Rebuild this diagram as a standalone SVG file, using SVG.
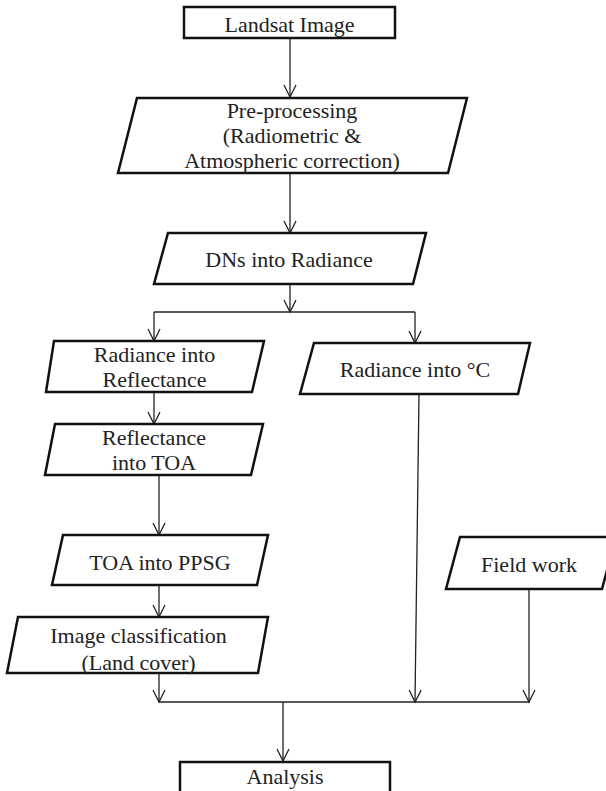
<svg xmlns="http://www.w3.org/2000/svg" width="606" height="791" viewBox="0 0 606 791">
<style>
.box{fill:#fff;stroke:#111;stroke-width:2.5;stroke-linejoin:miter}
.lbl{font-family:"Liberation Serif","Times New Roman",serif;font-size:22px;fill:#222;text-anchor:middle}
.con{fill:none;stroke:#222;stroke-width:1.3}
</style>
<defs>
<marker id="arr" markerUnits="userSpaceOnUse" viewBox="-14 -8 16 16" refX="0" refY="0" markerWidth="16" markerHeight="16" orient="auto" overflow="visible">
<path d="M-12,-6 L0,0 L-12,6" fill="none" stroke="#222" stroke-width="1.3"/>
</marker>
</defs>
<rect width="606" height="791" fill="#fff"/>
<g id="connectors">
<path class="con" d="M290,38 V97" marker-end="url(#arr)"/>
<path class="con" d="M290,173 V233" marker-end="url(#arr)"/>
<path class="con" d="M290,284 V312" marker-end="url(#arr)"/>
<path class="con" d="M154,312 H415"/>
<path class="con" d="M154,312 V341" marker-end="url(#arr)"/>
<path class="con" d="M415,312 V343" marker-end="url(#arr)"/>
<path class="con" d="M154,392 V424" marker-end="url(#arr)"/>
<path class="con" d="M159,475 V535" marker-end="url(#arr)"/>
<path class="con" d="M159,585 V617" marker-end="url(#arr)"/>
<path class="con" d="M159,673 V702" marker-end="url(#arr)"/>
<path class="con" d="M159,702 H530"/>
<path class="con" d="M419,394 L415,702" marker-end="url(#arr)"/>
<path class="con" d="M529,589 V702" marker-end="url(#arr)"/>
<path class="con" d="M283,702 V761" marker-end="url(#arr)"/>
</g>
<g id="landsat">
<rect class="box" x="184" y="7" width="211" height="31"/>
<text class="lbl" x="289.5" y="32">Landsat Image</text>
</g>
<g id="preprocessing">
<polygon class="box" points="137,98 467,98 448,173 118,173"/>
<text class="lbl" x="292" y="118">Pre-processing</text>
<text class="lbl" x="292" y="143">(Radiometric &amp;</text>
<text class="lbl" x="292" y="168">Atmospheric correction)</text>
</g>
<g id="dns">
<polygon class="box" points="168,233 426,233 413,284 154,284"/>
<text class="lbl" x="289" y="267">DNs into Radiance</text>
</g>
<g id="refl">
<polygon class="box" points="54,341 264,341 252,392 46,392"/>
<text class="lbl" x="154.5" y="362">Radiance into</text>
<text class="lbl" x="154.5" y="387">Reflectance</text>
</g>
<g id="toa">
<polygon class="box" points="55,424 263,424 251,475 45,475"/>
<text class="lbl" x="154" y="445">Reflectance</text>
<text class="lbl" x="154" y="470">into TOA</text>
</g>
<g id="ppsg">
<polygon class="box" points="63,535 268,535 257,585 52,585"/>
<text class="lbl" x="160" y="570">TOA into PPSG</text>
</g>
<g id="classification">
<polygon class="box" points="18,617 268,617 258,673 7,673"/>
<text class="lbl" x="138.5" y="643">Image classification</text>
<text class="lbl" x="138.5" y="670">(Land cover)</text>
</g>
<g id="celsius">
<polygon class="box" points="314,343 530,343 518,394 300,394"/>
<text class="lbl" x="415" y="377">Radiance into °C</text>
</g>
<g id="fieldwork">
<polygon class="box" points="460,537 616,537 602,589 446,589"/>
<text class="lbl" x="529" y="572">Field work</text>
</g>
<g id="analysis">
<rect class="box" x="180" y="762" width="210" height="40"/>
<text class="lbl" x="285" y="784">Analysis</text>
</g>
</svg>
